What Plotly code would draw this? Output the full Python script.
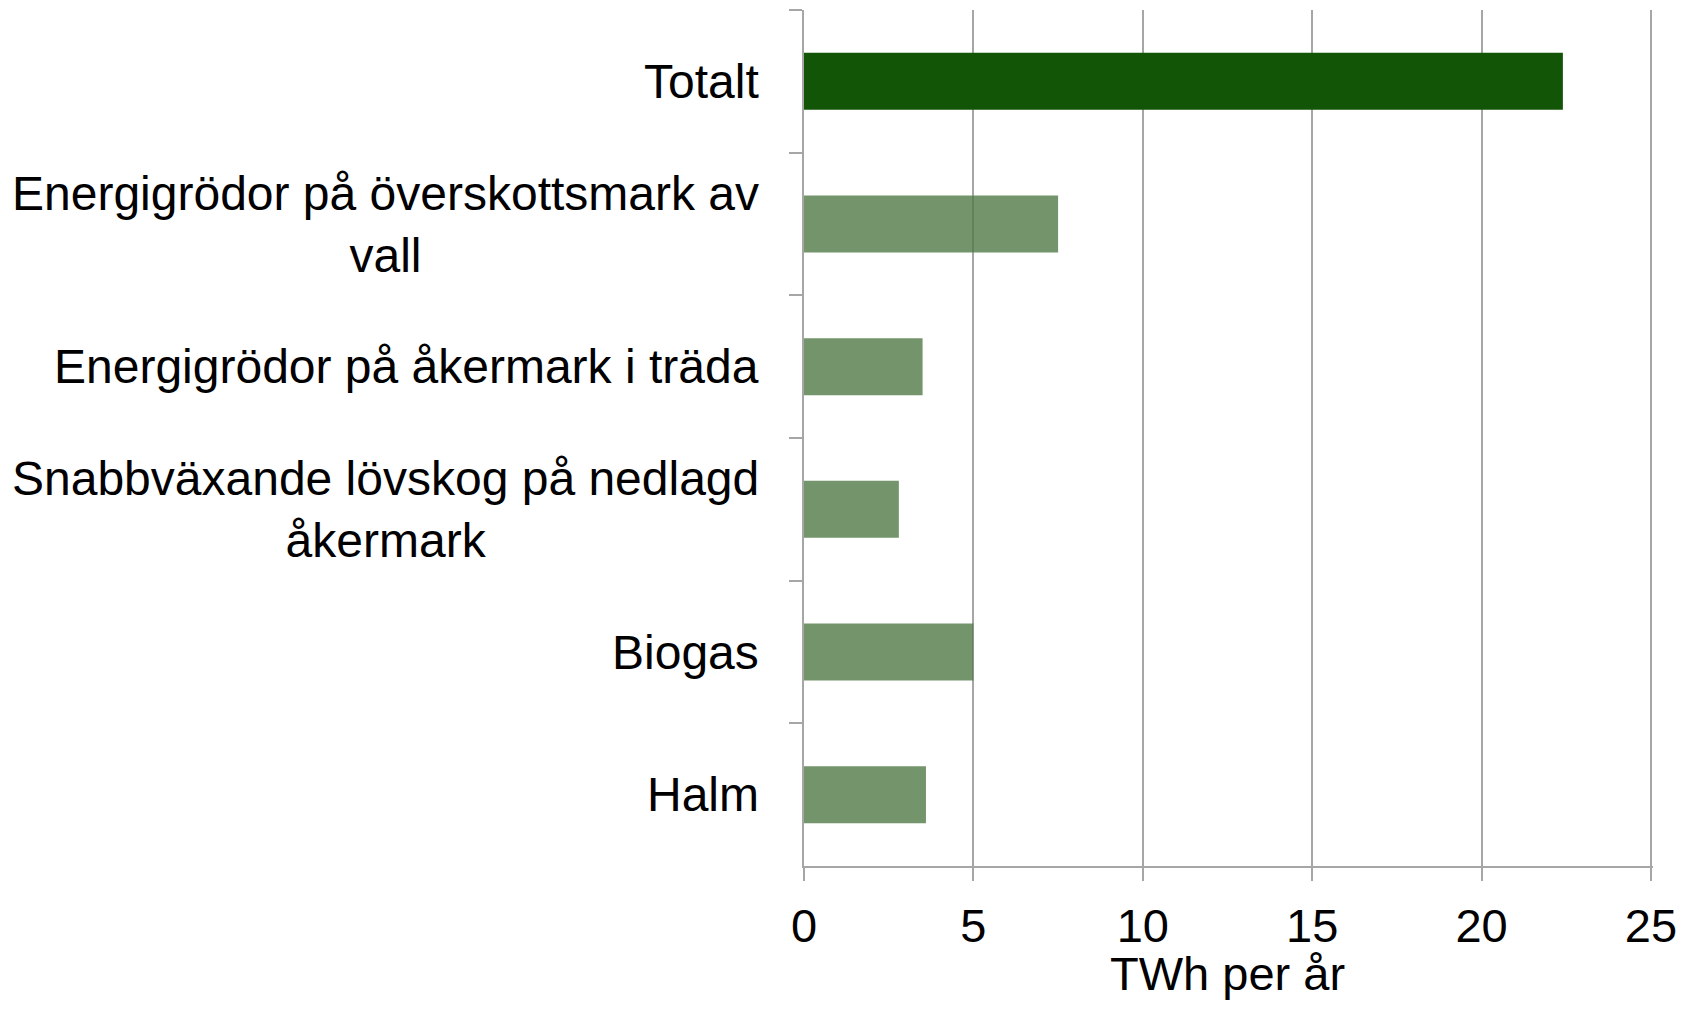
import plotly.graph_objects as go

categories = [
    "Totalt",
    "Energigrödor på överskottsmark av<br>vall",
    "Energigrödor på åkermark i träda",
    "Snabbväxande lövskog på nedlagd<br>åkermark",
    "Biogas",
    "Halm",
]
values = [22.4, 7.5, 3.5, 2.8, 5.0, 3.6]
bar_colors = ["#135506"] + ["rgba(81,122,70,0.8)"] * 5
x_ticks = [0, 5, 10, 15, 20, 25]
x_title = "TWh per år"

FONT = "Liberation Sans, Arial, Helvetica, sans-serif"
GRAY = "#A6A6A6"

fig = go.Figure()
fig.add_trace(go.Bar(
    x=values,
    y=categories,
    orientation="h",
    marker=dict(color=bar_colors, line=dict(width=0)),
    width=0.4,
    hoverinfo="x+y",
))

for cat in categories:
    fig.add_annotation(
        x=-0.051, xref="paper", y=cat, yref="y",
        text=cat, showarrow=False, xanchor="right", yanchor="middle",
        align="center",
        font=dict(family=FONT, size=48, color="#000000"),
    )

# x-axis title
fig.add_annotation(
    x=25 / 2, xref="x", y=0, yref="paper",
    text=x_title, showarrow=False, xanchor="center", yanchor="top",
    yshift=-80, borderpad=0,
    font=dict(family=FONT, size=47, color="#000000"),
)

fig.update_layout(
    width=1676, height=1001,
    margin=dict(l=796, r=31, t=2, b=143, autoexpand=False),
    paper_bgcolor="white", plot_bgcolor="white",
    showlegend=False,
    font=dict(family=FONT, color="#000000"),
    xaxis=dict(
        range=[0, 25.06], tickvals=x_ticks, ticktext=[str(t) for t in x_ticks],
        showgrid=True, gridcolor=GRAY, gridwidth=1.5,
        showline=True, linecolor=GRAY, linewidth=1.5,
        ticks="outside", ticklen=13, tickcolor=GRAY, tickwidth=1.5,
        ticklabelstandoff=5,
        ticklabeloverflow="allow",
        tickfont=dict(family=FONT, size=47, color="#000000"),
        zeroline=False,
        automargin=False,
    ),
    yaxis=dict(
        type="category", autorange="reversed",
        showticklabels=False,
        showgrid=False,
        showline=True, linecolor=GRAY, linewidth=1.5,
        ticks="outside", ticklen=13, tickcolor=GRAY, tickwidth=1.5,
        tickson="boundaries",
        zeroline=False,
        automargin=False,
    ),
)

fig.write_html("out.html")
